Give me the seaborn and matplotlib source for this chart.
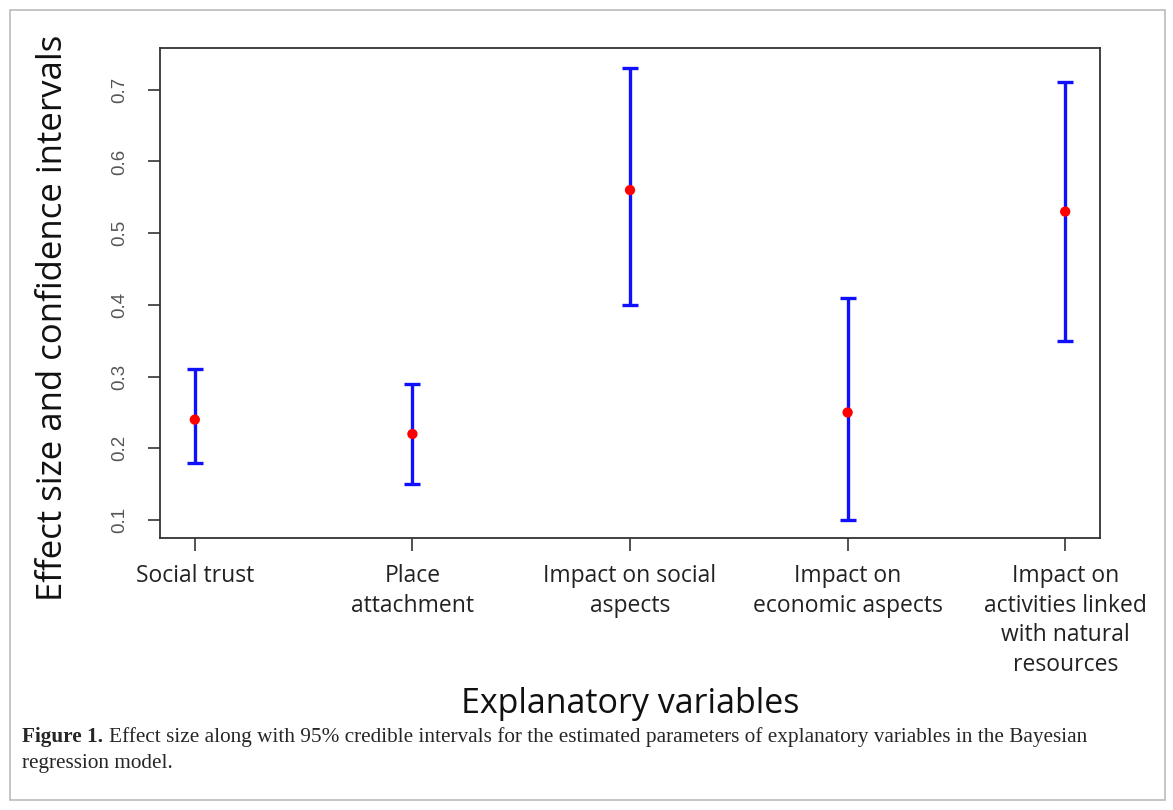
import matplotlib
matplotlib.use("Agg")
import matplotlib.pyplot as plt
import seaborn as sns
import pandas as pd
from matplotlib.patches import Rectangle

# data
variables = [
    "Social trust",
    "Place\nattachment",
    "Impact on social\naspects",
    "Impact on\neconomic aspects",
    "Impact on\nactivities linked\nwith natural\nresources",
]
effect = [0.24, 0.22, 0.56, 0.25, 0.53]
lower = [0.18, 0.15, 0.40, 0.10, 0.35]
upper = [0.31, 0.29, 0.73, 0.41, 0.71]
yticks = [0.1, 0.2, 0.3, 0.4, 0.5, 0.6, 0.7]

df = pd.DataFrame({"variable": variables, "effect": effect,
                   "lower": lower, "upper": upper})
df["pos"] = range(len(df))

sns.set_style("white")
plt.rcParams["font.family"] = ["Open Sans", "DejaVu Sans"]

fig = plt.figure(figsize=(11.73, 8.1), dpi=100)
ax = fig.add_axes([0.1364, 0.3358, 0.8014, 0.6049])

# credible intervals
ax.errorbar(df["pos"], df["effect"],
            yerr=[df["effect"] - df["lower"], df["upper"] - df["effect"]],
            fmt="none", ecolor="#1010ff", elinewidth=2.4, capsize=6, capthick=2.4,
            zorder=2)
# point estimates
sns.scatterplot(data=df, x="pos", y="effect", ax=ax, color="red", s=55,
                edgecolor="none", zorder=3, legend=False)

ax.set_xlim(-0.16, 4.16)
ax.set_ylim(0.075, 0.758)
ax.set_xticks(df["pos"])
ax.set_xticklabels(df["variable"], fontsize=16.5, color="#222222",
                   linespacing=1.3, va="top")
ax.set_yticks(yticks)
ax.set_yticklabels([f"{t:.1f}" for t in yticks], rotation=90, va="center",
                   fontsize=13.5, color="#555555", family=["Liberation Sans"])
ax.tick_params(axis="y", length=9, width=1.2, color="#333333", pad=14, left=True)
ax.tick_params(axis="x", length=9, width=1.2, color="#333333", pad=10, bottom=True)
ax.set_xlabel("")
ax.set_ylabel("")
for sp in ax.spines.values():
    sp.set_visible(True)
    sp.set_color("#333333")
    sp.set_linewidth(1.3)

fig.text(0.045, 0.607, "Effect size and confidence intervals", rotation=90,
         ha="center", va="center", fontsize=25, color="#111111")
fig.text(0.537, 0.131, "Explanatory variables", ha="center", va="center",
         fontsize=24.5, color="#111111")

# caption
cap_font = ["Liberation Serif", "DejaVu Serif"]
fig.text(0.019, 0.084, "Figure 1.", fontsize=15.3, fontweight="bold",
         family=cap_font, va="baseline")
fig.text(0.0925, 0.084,
         "Effect size along with 95% credible intervals for the estimated parameters "
         "of explanatory variables in the Bayesian",
         fontsize=15.3, family=cap_font, va="baseline")
fig.text(0.019, 0.052, "regression model.", fontsize=15.3, family=cap_font,
         va="baseline")

# outer frame
fig.patches.append(Rectangle((10 / 1173, 10 / 810), 1155 / 1173, 790 / 810,
                             transform=fig.transFigure, fill=False,
                             edgecolor="#bbbbbb", linewidth=1.2))

fig.savefig("out.png", dpi=100)
